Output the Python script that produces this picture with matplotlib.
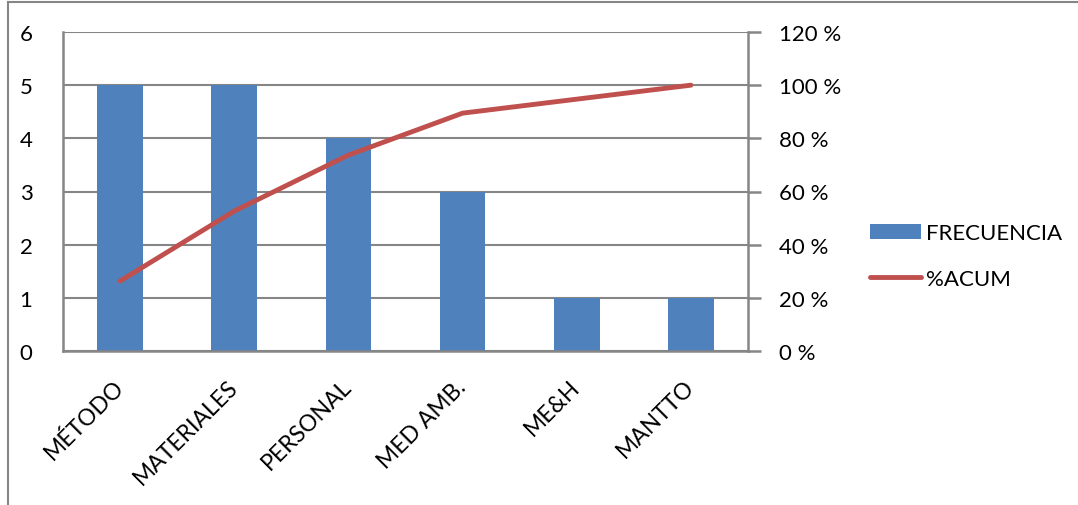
import matplotlib.pyplot as plt
from matplotlib.lines import Line2D
from matplotlib.patches import Patch

# Pareto data
categorias = ["MÉTODO", "MATERIALES", "PERSONAL", "MED AMB.", "ME&H", "MANTTO"]
frecuencia = [5, 5, 4, 3, 1, 1]

total = sum(frecuencia)
acumulado = []
suma = 0
for f in frecuencia:
    suma += f
    acumulado.append(suma / total * 100)

plt.rcParams["font.family"] = ["Lato", "DejaVu Sans"]

azul = "#4F81BD"
rojo = "#C0504D"
gris = "#868686"

fig = plt.figure(figsize=(10.78, 5.06), dpi=100)
W, H = 1078, 506

# outer chart frame (only top and left edges fall inside the image)
fig.add_artist(Line2D([8 / W, 8 / W], [0, 1 - 3 / H], color=gris, lw=1.5))
fig.add_artist(Line2D([8 / W, 1], [1 - 3 / H, 1 - 3 / H], color=gris, lw=1.5))

ax = fig.add_axes([63 / W, 1 - 352 / H, (748 - 63) / W, (352 - 33) / H])
x = list(range(len(categorias)))

ax.bar(x, frecuencia, width=0.4, color=azul, zorder=2)
ax.set_xlim(-0.5, len(categorias) - 0.5)
ax.set_ylim(0, 6)
ax.set_yticks(range(0, 7))
ax.yaxis.grid(True, color=gris, lw=1.5, zorder=0)
ax.tick_params(axis="y", length=0, pad=22, labelsize=16)
ax.tick_params(axis="x", length=0, pad=23, labelsize=16.5)
ax.set_xticks(x)
ax.set_xticklabels(categorias, rotation=45, ha="right", va="center",
                   rotation_mode="anchor")
for s in ["top", "right"]:
    ax.spines[s].set_visible(False)
for s in ["left", "bottom"]:
    ax.spines[s].set_color(gris)
    ax.spines[s].set_linewidth(1.8)

ax2 = ax.twinx()
ax2.plot(x, acumulado, color=rojo, lw=3.5, solid_capstyle="round", zorder=3)
ax2.set_ylim(0, 120)
ax2.set_yticks(range(0, 121, 20))
ax2.set_yticklabels([f"{v} %" for v in range(0, 121, 20)])
ax2.tick_params(axis="y", length=9, width=1.8, color=gris, pad=13, labelsize=16)
for s in ["top", "left", "bottom"]:
    ax2.spines[s].set_visible(False)
ax2.spines["right"].set_color(gris)
ax2.spines["right"].set_linewidth(1.8)

handles = [
    Patch(facecolor=azul, label="FRECUENCIA"),
    Line2D([0], [0], color=rojo, lw=3.5, solid_capstyle="round", label="%ACUM"),
]
fig.legend(handles=handles, loc="center left", bbox_to_anchor=(850 / W, 1 - 257 / H),
           frameon=False, fontsize=16, handlelength=2.3, handletextpad=0.2,
           labelspacing=1.15)

fig.savefig("out.png", dpi=100)
